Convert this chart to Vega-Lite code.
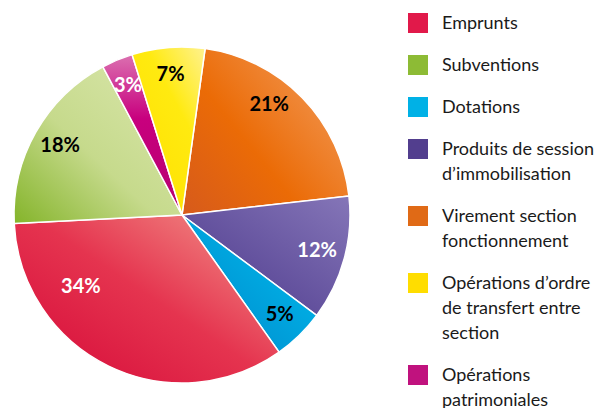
{
  "$schema": "https://vega.github.io/schema/vega-lite/v6.json",
  "width": 362,
  "height": 430,
  "padding": 0,
  "background": "white",
  "config": {"view": {"stroke": null}},
  "data": {
    "values": [
      {"cat": "Virement section fonctionnement", "share": 0.21, "o": 1},
      {"cat": "Produits de session d’immobilisation", "share": 0.12, "o": 2},
      {"cat": "Dotations", "share": 0.05, "o": 3},
      {"cat": "Emprunts", "share": 0.34, "o": 4},
      {"cat": "Subventions", "share": 0.18, "o": 5},
      {"cat": "Opérations patrimoniales", "share": 0.03, "o": 6},
      {"cat": "Opérations d’ordre de transfert entre section", "share": 0.07, "o": 7}
    ]
  },
  "encoding": {
    "theta": {"field": "share", "type": "quantitative", "stack": true, "scale": {"range": [0.138, 6.4212]}},
    "order": {"field": "o", "type": "quantitative"}
  },
  "layer": [
    {
      "mark": {"type": "arc", "radius": 168, "stroke": "white", "strokeWidth": 1.5},
      "encoding": {
        "color": {
          "field": "cat",
          "type": "nominal",
          "scale": {
            "domain": ["Emprunts", "Subventions", "Dotations", "Produits de session d’immobilisation", "Virement section fonctionnement", "Opérations d’ordre de transfert entre section", "Opérations patrimoniales"],
            "range": ["#e1194a", "#8dbb35", "#00b1e6", "#523e8e", "#e06a16", "#ffdd00", "#c0127e"]
          },
          "condition": [
            {"test": "datum.cat === 'Emprunts'", "value": {"gradient": "linear", "x1": 0.1, "y1": 0.9, "x2": 0.95, "y2": 0.1, "stops": [{"offset": 0, "color": "#d8103c"}, {"offset": 0.5, "color": "#e5344f"}, {"offset": 1, "color": "#f18a84"}]}},
            {"test": "datum.cat === 'Subventions'", "value": {"gradient": "linear", "x1": 0, "y1": 1, "x2": 1, "y2": 0, "stops": [{"offset": 0, "color": "#84b42a"}, {"offset": 0.45, "color": "#c6da8c"}, {"offset": 1, "color": "#dbe7ae"}]}},
            {"test": "datum.cat === 'Dotations'", "value": {"gradient": "linear", "x1": 0, "y1": 1, "x2": 1, "y2": 0, "stops": [{"offset": 0, "color": "#0085c9"}, {"offset": 1, "color": "#00c0f0"}]}},
            {"test": "datum.cat === 'Produits de session d’immobilisation'", "value": {"gradient": "linear", "x1": 0, "y1": 1, "x2": 1, "y2": 0, "stops": [{"offset": 0, "color": "#4a368a"}, {"offset": 1, "color": "#8576b8"}]}},
            {"test": "datum.cat === 'Virement section fonctionnement'", "value": {"gradient": "linear", "x1": 0, "y1": 1, "x2": 1, "y2": 0.2, "stops": [{"offset": 0, "color": "#d65a1c"}, {"offset": 0.45, "color": "#eb6b06"}, {"offset": 1, "color": "#f29a58"}]}},
            {"test": "datum.cat === 'Opérations d’ordre de transfert entre section'", "value": {"gradient": "linear", "x1": 0.2, "y1": 1, "x2": 1, "y2": 0, "stops": [{"offset": 0, "color": "#ffe000"}, {"offset": 0.6, "color": "#ffea10"}, {"offset": 1, "color": "#fff290"}]}},
            {"test": "datum.cat === 'Opérations patrimoniales'", "value": {"gradient": "linear", "x1": 0.5, "y1": 1, "x2": 0.5, "y2": 0, "stops": [{"offset": 0, "color": "#b5006f"}, {"offset": 0.6, "color": "#c8007e"}, {"offset": 1, "color": "#db70b0"}]}}
          ],
          "legend": {
            "orient": "none",
            "legendX": 407,
            "legendY": 13,
            "title": null,
            "padding": 0,
            "symbolType": "square",
            "symbolSize": 400,
            "symbolStrokeWidth": 0,
            "symbolBaseline": "top",
            "labelBaseline": "top",
            "labelFont": "Lato",
            "labelFontSize": 18,
            "labelColor": "#1a1a1a",
            "labelOffset": 14,
            "labelLimit": 400,
            "rowPadding": 22,
            "labelExpr": "datum.label === 'Produits de session d’immobilisation' ? ['Produits de session', 'd’immobilisation'] : datum.label === 'Virement section fonctionnement' ? ['Virement section', 'fonctionnement'] : datum.label === 'Opérations d’ordre de transfert entre section' ? ['Opérations d’ordre', 'de transfert entre', 'section'] : datum.label === 'Opérations patrimoniales' ? ['Opérations', 'patrimoniales'] : datum.label",
            "encoding": {"labels": {"lineHeight": {"value": 25}, "dy": {"value": -8}}}
          }
        }
      }
    },
    {
      "mark": {"type": "text", "radius": 140, "font": "Lato", "fontWeight": "bold", "fontSize": 20},
      "encoding": {
        "text": {"field": "share", "type": "quantitative", "format": ".0%"},
        "opacity": {"condition": {"test": "datum.cat === 'Emprunts' || datum.cat === 'Virement section fonctionnement'", "value": 0}, "value": 1},
        "color": {
          "condition": {"test": "datum.cat === 'Produits de session d’immobilisation' || datum.cat === 'Opérations patrimoniales'", "value": "white"},
          "value": "black"
        }
      }
    },
    {
      "mark": {"type": "text", "radius": 140, "font": "Lato", "fontWeight": "bold", "fontSize": 20, "color": "white", "dx": -40, "dy": -54},
      "encoding": {
        "text": {"field": "share", "type": "quantitative", "format": ".0%"},
        "opacity": {"condition": {"test": "datum.cat === 'Emprunts'", "value": 1}, "value": 0}
      }
    },
    {
      "mark": {"type": "text", "radius": 140, "font": "Lato", "fontWeight": "bold", "fontSize": 20, "color": "black", "dx": -13, "dy": -12},
      "encoding": {
        "text": {"field": "share", "type": "quantitative", "format": ".0%"},
        "opacity": {"condition": {"test": "datum.cat === 'Virement section fonctionnement'", "value": 1}, "value": 0}
      }
    }
  ]
}
